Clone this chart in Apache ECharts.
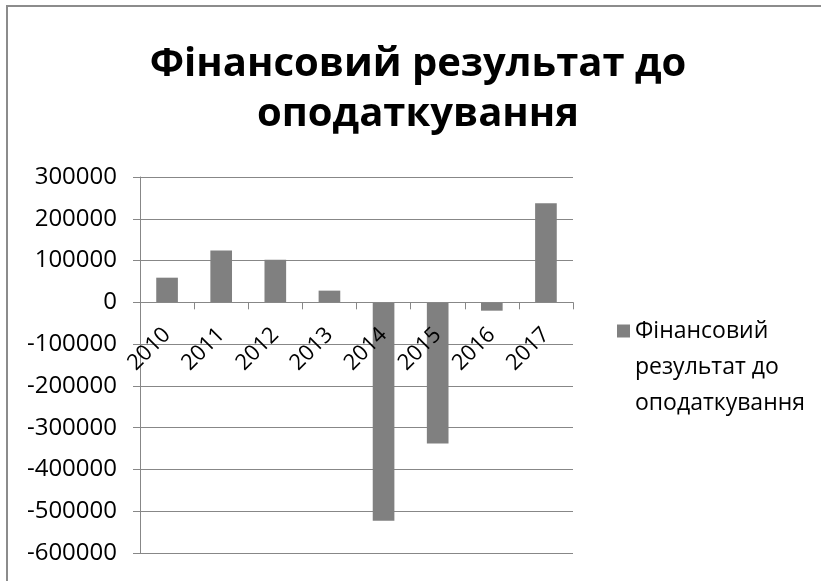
<!DOCTYPE html>
<html>
<head>
<meta charset="utf-8">
<script src="https://cdn.jsdelivr.net/npm/echarts@6/dist/echarts.min.js"></script>
<style>
html,body{margin:0;padding:0;background:#fff;}
#chart{width:821px;height:581px;}
</style>
</head>
<body>
<div id="chart"></div>
<script>
var titleText = 'Фінансовий результат до\nоподаткування';
var seriesName = 'Фінансовий результат до оподаткування';
var legendLines = ['Фінансовий', 'результат до', 'оподаткування'];
var categories = ['2010', '2011', '2012', '2013', '2014', '2015', '2016', '2017'];
var values = [59000, 124000, 102000, 28000, -523000, -338000, -20000, 237000];
var yMin = -600000, yMax = 300000, yStep = 100000;

var TFONT = "'Open Sans', sans-serif";
var LFONT = "'Open Sans', sans-serif";
var GRID_C = '#878787';

var chart = echarts.init(document.getElementById('chart'), null, {renderer: 'canvas'});
chart.setOption({
  animation: false,
  backgroundColor: '#ffffff',
  title: {
    text: titleText,
    left: 413,
    top: 35,
    textAlign: 'center',
    textStyle: {fontFamily: TFONT, fontWeight: 'bold', fontSize: 40, lineHeight: 50, color: '#000'}
  },
  graphic: [{
    type: 'polyline',
    shape: {points: [[7, 581], [7, 6], [821, 6]]},
    style: {stroke: '#8c8c8c', lineWidth: 2, fill: null},
    silent: true
  }],
  grid: {left: 140, right: 248, top: 177, bottom: 28, containLabel: false, outerBoundsMode: 'none'},
  legend: {
    show: true,
    left: 617,
    top: 272,
    padding: 0,
    orient: 'vertical',
    icon: 'rect',
    itemWidth: 13,
    itemHeight: 13,
    formatter: function () {
      return '{s| }\n{t|' + legendLines.join('}\n{t|') + '}';
    },
    textStyle: {
      fontFamily: LFONT, fontSize: 23, color: '#000',
      rich: {
        s: {fontFamily: LFONT, fontSize: 10, lineHeight: 72},
        t: {fontFamily: LFONT, fontSize: 23, lineHeight: 36, color: '#000'}
      }
    }
  },
  xAxis: {
    type: 'category',
    data: categories,
    z: 3,
    axisLine: {show: true, onZero: false, lineStyle: {color: GRID_C, width: 1}},
    axisTick: {show: true, length: 7, lineStyle: {color: GRID_C}},
    axisLabel: {rotate: 45, margin: 29, fontFamily: LFONT, fontSize: 22, color: '#000', interval: 0},
    splitLine: {show: false}
  },
  yAxis: {
    type: 'value',
    min: yMin,
    max: yMax,
    interval: yStep,
    axisLine: {show: true, lineStyle: {color: GRID_C, width: 1}},
    axisTick: {show: true, length: 7, lineStyle: {color: GRID_C}},
    axisLabel: {margin: 23, fontFamily: LFONT, fontSize: 24, color: '#000',
      formatter: function (v) { return String(v); }},
    splitLine: {show: true, lineStyle: {color: GRID_C, width: 1}}
  },
  series: [{
    name: seriesName,
    type: 'bar',
    data: values,
    barWidth: '40%',
    itemStyle: {color: '#808080'}
  }]
});
// Place the category axis on the value axis' zero, using the library's own scale.
var zeroPx = chart.convertToPixel({yAxisIndex: 0}, 0);
var minPx = chart.convertToPixel({yAxisIndex: 0}, yMin);
chart.setOption({xAxis: {offset: zeroPx - minPx}});
</script>
</body>
</html>
